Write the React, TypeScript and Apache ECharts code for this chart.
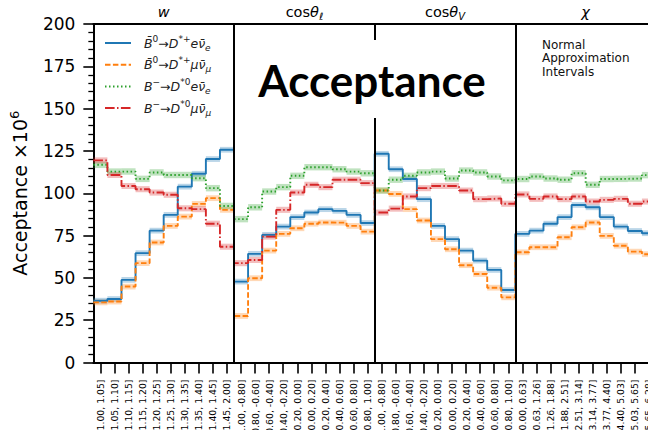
import { useEffect, useRef } from "react";
import * as echarts from "echarts";

// ---- tick labels ----
const W_BINS = ["[1.00, 1.05]", "[1.05, 1.10]", "[1.10, 1.15]", "[1.15, 1.20]", "[1.20, 1.25]", "[1.25, 1.30]", "[1.30, 1.35]", "[1.35, 1.40]", "[1.40, 1.45]", "[1.45, 2.00]"];
const COSL_BINS = ["[-1.00, -0.80]", "[-0.80, -0.60]", "[-0.60, -0.40]", "[-0.40, -0.20]", "[-0.20, 0.00]", "[0.00, 0.20]", "[0.20, 0.40]", "[0.40, 0.60]", "[0.60, 0.80]", "[0.80, 1.00]"];
const COSV_BINS = ["[-1.00, -0.80]", "[-0.80, -0.60]", "[-0.60, -0.40]", "[-0.40, -0.20]", "[-0.20, 0.00]", "[0.00, 0.20]", "[0.20, 0.40]", "[0.40, 0.60]", "[0.60, 0.80]", "[0.80, 1.00]"];
const CHI_BINS = ["[0.00, 0.63]", "[0.63, 1.26]", "[1.26, 1.88]", "[1.88, 2.51]", "[2.51, 3.14]", "[3.14, 3.77]", "[3.77, 4.40]", "[4.40, 5.03]", "[5.03, 5.65]", "[5.65, 6.28]"];
const CATEGORIES = [...W_BINS, ...COSL_BINS, ...COSV_BINS, ...CHI_BINS];
const PANELS = ["w", "cosθℓ", "cosθV", "χ"];
const Y_TICKS = [0, 25, 50, 75, 100, 125, 150, 175, 200];

// ---- series values (acceptance x 10^6), bins: w | cosθℓ | cosθV | χ ----
const B0_E = [
  36.5, 37.5, 48.8, 64.6, 77.9, 87.2, 103.9, 111.5, 120.2, 125.7,
  47.8, 64.2, 75.4, 80.3, 85.9, 88.6, 90.6, 89.6, 87.2, 82.4,
  123.3, 114.2, 108.4, 96.5, 80.7, 72.9, 66.1, 60.2, 54.7, 42.8,
  76.0, 77.9, 82.0, 85.9, 93.1, 91.7, 85.9, 80.3, 77.7, 76.4,
];
const B0_MU = [
  35.5, 36.0, 44.9, 58.7, 70.9, 80.7, 86.2, 93.7, 97.1, 90.2,
  27.5, 49.8, 66.1, 76.0, 79.3, 82.0, 82.7, 82.6, 80.7, 77.3,
  101.6, 99.6, 90.6, 83.9, 72.9, 66.9, 57.5, 52.3, 44.2, 38.5,
  65.1, 68.1, 68.1, 74.0, 79.9, 82.7, 74.8, 69.0, 65.5, 64.0,
];
const BM_E = [
  116.8, 112.8, 112.8, 108.5, 112.3, 110.8, 110.8, 108.9, 103.0, 92.5,
  84.7, 91.7, 101.0, 103.6, 110.3, 115.4, 115.4, 114.2, 112.8, 111.8,
  101.6, 108.0, 110.3, 112.3, 112.8, 108.7, 113.4, 112.3, 109.9, 107.6,
  108.4, 109.9, 108.7, 108.0, 111.8, 105.0, 108.4, 108.5, 108.7, 110.7,
];
const BM_MU = [
  119.4, 110.8, 104.3, 102.4, 100.4, 99.1, 91.1, 90.6, 82.0, 68.4,
  58.7, 60.6, 74.4, 90.2, 100.4, 105.0, 103.6, 108.0, 108.0, 106.0,
  88.6, 90.9, 98.1, 103.0, 104.3, 104.3, 101.6, 96.5, 96.9, 93.8,
  99.3, 96.7, 98.1, 96.5, 98.1, 95.1, 96.1, 96.7, 93.8, 95.1,
];
const BAND_HALF = [1.7, 1.7, 1.9, 1.8];

const NAMES = ["B0e", "B0mu", "Bme", "Bmmu"];
const VALUES = [B0_E, B0_MU, BM_E, BM_MU];
const COLORS = ["#1f77b4", "#ff7f0e", "#2ca02c", "#d62728"];
const DASHES: any[] = ["solid", [5.5, 2.4], [1.5, 2.5], [9.6, 2.4, 1.5, 2.4]];
const LEGEND_TEXT: Record<string, string> = {
  B0e: "{i|B̄}{sup|0}{r|→}{i|D}{sup|*+}{i|eν̄}{sub|e}",
  B0mu: "{i|B̄}{sup|0}{r|→}{i|D}{sup|*+}{i|μν̄}{sub|μ}",
  Bme: "{i|B}{sup|−}{r|→}{i|D}{sup|*0}{i|eν̄}{sub|e}",
  Bmmu: "{i|B}{sup|−}{r|→}{i|D}{sup|*0}{i|μν̄}{sub|μ}",
};
const PANEL_TEXT: Record<string, string> = {
  "w": "{i|w}",
  "cosθℓ": "{r|cos}{i|θ}{sub|ℓ}",
  "cosθV": "{r|cos}{i|θ}{sub|V}",
  "χ": "{i|χ}",
};

const FONT = "DejaVu Sans";

function rgba(hex: string, a: number) {
  const n = parseInt(hex.slice(1), 16);
  return `rgba(${(n >> 16) & 255},${(n >> 8) & 255},${n & 255},${a})`;
}

export default function App() {
  const ref = useRef<HTMLDivElement>(null);
  useEffect(() => {
    if (!ref.current) return;
    const chart = echarts.init(ref.current, undefined, { renderer: "svg" });
    const series: any[] = [];
    VALUES.forEach((vals, k) => {
      const half = BAND_HALF[k];
      const color = COLORS[k];
      series.push({
        name: NAMES[k] + "_band",
        type: "custom",
        xAxisIndex: 1,
        yAxisIndex: 0,
        silent: true,
        z: 1,
        data: vals.map((v, i) => [i, v - half, v + half]),
        renderItem: (_p: any, api: any) => {
          const x0 = api.value(0);
          const a = api.coord([x0, api.value(2)]);
          const b = api.coord([x0 + 1, api.value(1)]);
          return {
            type: "rect",
            shape: { x: a[0], y: a[1], width: b[0] - a[0], height: b[1] - a[1] },
            style: { fill: rgba(color, 0.3) },
          };
        },
      });
    });
    VALUES.forEach((vals, k) => {
      const pts = vals.map((v, i) => [i, v]);
      pts.push([vals.length, vals[vals.length - 1]]);
      const s: any = {
        name: NAMES[k],
        type: "line",
        xAxisIndex: 1,
        yAxisIndex: 0,
        step: "end",
        symbol: "none",
        showSymbol: false,
        z: 2,
        color: COLORS[k],
        lineStyle: { color: COLORS[k], width: 1.9, type: DASHES[k] },
        data: pts,
      };
      if (k === VALUES.length - 1) {
        s.z = 3;
        s.markLine = {
          silent: true,
          symbol: "none",
          label: { show: false },
          lineStyle: { color: "#000", width: 2, type: "solid" },
          data: [{ xAxis: 10 }, { xAxis: 20 }, { xAxis: 30 }],
        };
      }
      series.push(s);
    });

    const option: any = {
      animation: false,
      backgroundColor: "#fff",
      grid: { left: 89, top: 24, width: 567, height: 338.5, containLabel: false },
      legend: {
        data: NAMES,
        orient: "vertical",
        left: 99,
        top: 29,
        itemWidth: 26,
        itemHeight: 14,
        itemGap: 3.7,
        itemStyle: { opacity: 0 },
        formatter: (n: string) => LEGEND_TEXT[n],
        textStyle: {
          fontFamily: FONT,
          fontSize: 12.5,
          color: "#222",
          padding: [0, 0, 0, 8],
          rich: {
            i: { fontFamily: FONT, fontStyle: "italic", fontSize: 12.5, lineHeight: 18, color: "#222" },
            r: { fontFamily: FONT, fontSize: 12.5, lineHeight: 18, color: "#222" },
            sup: { fontFamily: FONT, fontSize: 9, lineHeight: 18, verticalAlign: "top", color: "#222" },
            sub: { fontFamily: FONT, fontStyle: "italic", fontSize: 9, lineHeight: 18, verticalAlign: "bottom", color: "#222" },
          },
        },
      },
      xAxis: [
        {
          type: "category",
          gridIndex: 0,
          position: "bottom",
          data: CATEGORIES,
          boundaryGap: true,
          axisLine: { show: true, lineStyle: { color: "#000", width: 2 } },
          axisTick: { show: true, alignWithLabel: true, interval: 0, length: 11, lineStyle: { color: "#000", width: 1.6 } },
          axisLabel: { interval: 0, rotate: 90, fontSize: 9.3, fontFamily: FONT, color: "#000", margin: 17 },
          splitLine: { show: false },
        },
        {
          type: "value",
          gridIndex: 0,
          min: 0,
          max: 40,
          show: false,
          splitLine: { show: false },
        },
        {
          type: "category",
          gridIndex: 0,
          position: "top",
          data: PANELS,
          boundaryGap: true,
          axisLine: { show: true, lineStyle: { color: "#000", width: 2 } },
          axisTick: { show: false },
          axisLabel: {
            interval: 0,
            margin: 3,
            formatter: (v: string) => PANEL_TEXT[v],
            rich: {
              i: { fontFamily: FONT, fontStyle: "italic", fontSize: 14.5, lineHeight: 18, color: "#000" },
              r: { fontFamily: FONT, fontSize: 14.5, lineHeight: 18, color: "#000" },
              sub: { fontFamily: FONT, fontStyle: "italic", fontSize: 10, lineHeight: 18, verticalAlign: "bottom", color: "#000" },
            },
          },
          splitLine: { show: false },
        },
      ],
      yAxis: [
        {
          type: "value",
          min: Y_TICKS[0],
          max: Y_TICKS[Y_TICKS.length - 1],
          interval: 25,
          name: "Acceptance ×10{s|6}",
          nameLocation: "middle",
          nameGap: 57,
          nameTextStyle: {
            fontFamily: FONT,
            fontSize: 19,
            color: "#000",
            lineHeight: 24,
            rich: { s: { fontFamily: FONT, fontSize: 13, lineHeight: 24, verticalAlign: "top", color: "#000" } },
          },
          axisLine: { show: true, lineStyle: { color: "#000", width: 2 } },
          axisTick: { show: true, length: 10, lineStyle: { color: "#000", width: 1.6 } },
          minorTick: { show: true, splitNumber: 5, length: 5, lineStyle: { color: "#000", width: 1.3 } },
          axisLabel: { fontFamily: FONT, fontSize: 17, color: "#000", margin: 18 },
          splitLine: { show: false },
        },
      ],
      graphic: [
        { type: "rect", shape: { x: 250, y: 40, width: 244, height: 78 }, style: { fill: "#fff" }, z: 100 },
        {
          type: "text",
          x: 372,
          y: 80,
          z: 101,
          style: { text: "Acceptance", fontFamily: "Lato", fontWeight: "bold", fontSize: 44, fill: "#000", align: "center", verticalAlign: "middle" },
        },
        {
          type: "text",
          x: 542,
          y: 38,
          z: 101,
          style: { text: "Normal\nApproximation\nIntervals", fontFamily: FONT, fontSize: 12, lineHeight: 13.5, fill: "#111", align: "left", verticalAlign: "top" },
        },
      ],
      series,
    };
    chart.setOption(option);
    return () => chart.dispose();
  }, []);
  return (
    <div style={{ position: "absolute", left: 0, top: 0, width: 648, height: 430, overflow: "hidden", background: "#fff" }}>
      <div ref={ref} style={{ width: 700, height: 480 }} />
    </div>
  );
}
